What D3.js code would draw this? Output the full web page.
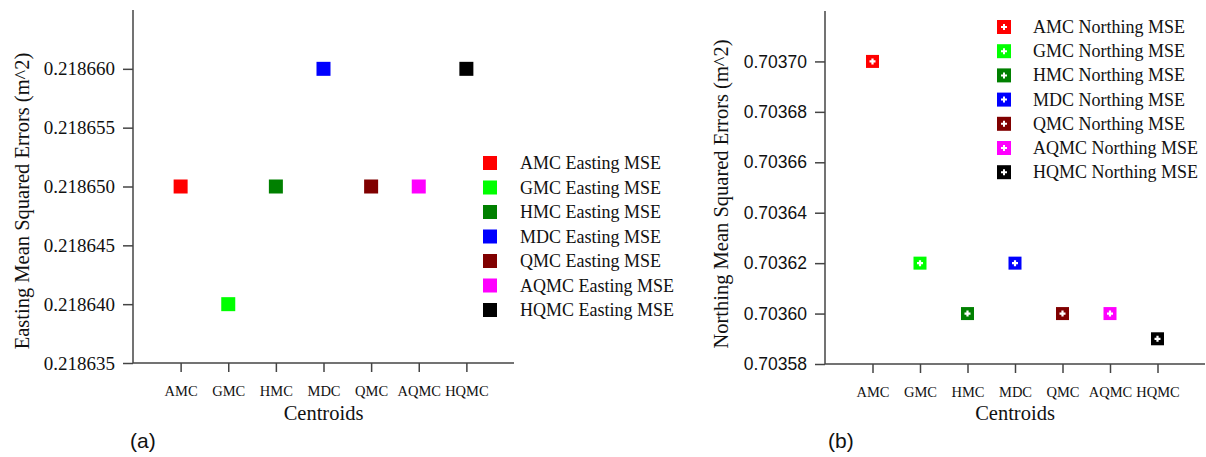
<!DOCTYPE html>
<html><head><meta charset="utf-8">
<script src="https://cdn.jsdelivr.net/npm/d3@7"></script>
<style>body{margin:0;background:#fff;}svg{display:block;}</style>
</head><body>
<svg id="c" width="1206" height="457"></svg>
<script>
const categories = ["AMC","GMC","HMC","MDC","QMC","AQMC","HQMC"];
const colors = ["#ff0000","#00ff00","#008000","#0000ff","#800000","#ff00ff","#000000"];
const eastingValues = [0.218650,0.218640,0.218650,0.218660,0.218650,0.218650,0.218660];
const northingValues = [0.70370,0.70362,0.70360,0.70362,0.70360,0.70360,0.70359];
const eastingTicks = [0.218635,0.218640,0.218645,0.218650,0.218655,0.218660];
const northingTicks = [0.70358,0.70360,0.70362,0.70364,0.70366,0.70368,0.70370];
const eastingLegend = categories.map(c => c + " Easting MSE");
const northingLegend = categories.map(c => c + " Northing MSE");

const svg = d3.select("#c");
const SERIF = '"Liberation Serif"';
const SANS = '"Liberation Sans"';
const axisColor = "#444";

function panel(opts){
  const g = svg.append("g");
  const x = d3.scalePoint().domain(categories).range([opts.x0, opts.x1]).padding(1);
  const y = d3.scaleLinear().domain(opts.domain).range([opts.yb, opts.yt]);
  const ya = g.append("g").attr("transform",`translate(${opts.x0},0)`)
    .call(d3.axisLeft(y).tickValues(opts.ticks).tickSize(10).tickPadding(8).tickFormat(opts.fmt));
  ya.select(".domain").attr("d",`M0,${opts.yt}V${opts.yb}`);
  ya.selectAll("path,line").attr("stroke",axisColor).attr("stroke-width",1.5);
  ya.selectAll("text").style("font-family",opts.tickFont).style("font-size",opts.tickSize).attr("fill","#111");
  const xa = g.append("g").attr("transform",`translate(0,${opts.yb})`)
    .call(d3.axisBottom(x).tickSize(9).tickPadding(14));
  xa.select(".domain").attr("d",`M${opts.x0},0H${opts.x1}`);
  xa.selectAll("path,line").attr("stroke",axisColor).attr("stroke-width",1.5);
  xa.selectAll("text").style("font-family",SERIF).style("font-size","14.5px").attr("fill","#111");
  g.append("text").style("font-family",SERIF).style("font-size","20.5px")
    .attr("transform",`translate(${opts.ylabX},${opts.ylabY}) rotate(-90)`)
    .attr("text-anchor","middle").attr("fill","#111").text(opts.ylab);
  g.append("text").style("font-family",SERIF).style("font-size","20.5px")
    .attr("x",(opts.x0+opts.x1)/2).attr("y",420).attr("text-anchor","middle")
    .attr("fill","#111").text("Centroids");
  g.append("text").style("font-family",SANS).style("font-size","21px")
    .attr("x",opts.tagX).attr("y",448).attr("fill","#111").text(opts.tag);
  const s = opts.msize;
  const pts = g.selectAll(".pt").data(opts.values).enter().append("g")
    .attr("transform",(d,i)=>`translate(${x(categories[i])},${y(d)})`);
  pts.append("rect").attr("x",-s/2).attr("y",-s/2).attr("width",s).attr("height",s).attr("fill",(d,i)=>colors[i]);
  if(opts.plus){
    pts.append("path").attr("d","M-3,0H3M0,-3V3").attr("stroke","#fff").attr("stroke-width",2.2);
  }
  const lg = g.selectAll(".lg").data(opts.legend).enter().append("g")
    .attr("transform",(d,i)=>`translate(${opts.lx},${opts.ly + i*opts.lstep})`);
  lg.append("rect").attr("x",-opts.lsize/2).attr("y",-opts.lsize/2).attr("width",opts.lsize).attr("height",opts.lsize).attr("fill",(d,i)=>colors[i]);
  if(opts.plus){
    lg.append("path").attr("d","M-3,0H3M0,-3V3").attr("stroke","#fff").attr("stroke-width",2);
  }
  lg.append("text").style("font-family",SERIF).style("font-size","18px")
    .attr("x",opts.ltx).attr("y",6).attr("fill","#111").text(d=>d);
}

panel({x0:133,x1:514,yt:10,yb:363,domain:[0.218635,0.218665],ticks:eastingTicks,fmt:d3.format(".6f"),
  tickFont:SERIF,tickSize:"19px",values:eastingValues,msize:14,plus:false,ylab:"Easting Mean Squared Errors (m^2)",ylabX:29,ylabY:201,
  tagX:130,tag:"(a)",legend:eastingLegend,lx:490,ly:163,lstep:24.5,lsize:14,ltx:30});
panel({x0:825,x1:1205,yt:11,yb:364,domain:[0.70358,0.70372],ticks:northingTicks,fmt:d3.format(".5f"),
  tickFont:SANS,tickSize:"17.5px",values:northingValues,msize:13,plus:true,ylab:"Northing Mean Squared Errors (m^2)",ylabX:728,ylabY:194,
  tagX:828,tag:"(b)",legend:northingLegend,lx:1004,ly:27,lstep:24.2,lsize:14,ltx:29});
</script>
</body></html>
